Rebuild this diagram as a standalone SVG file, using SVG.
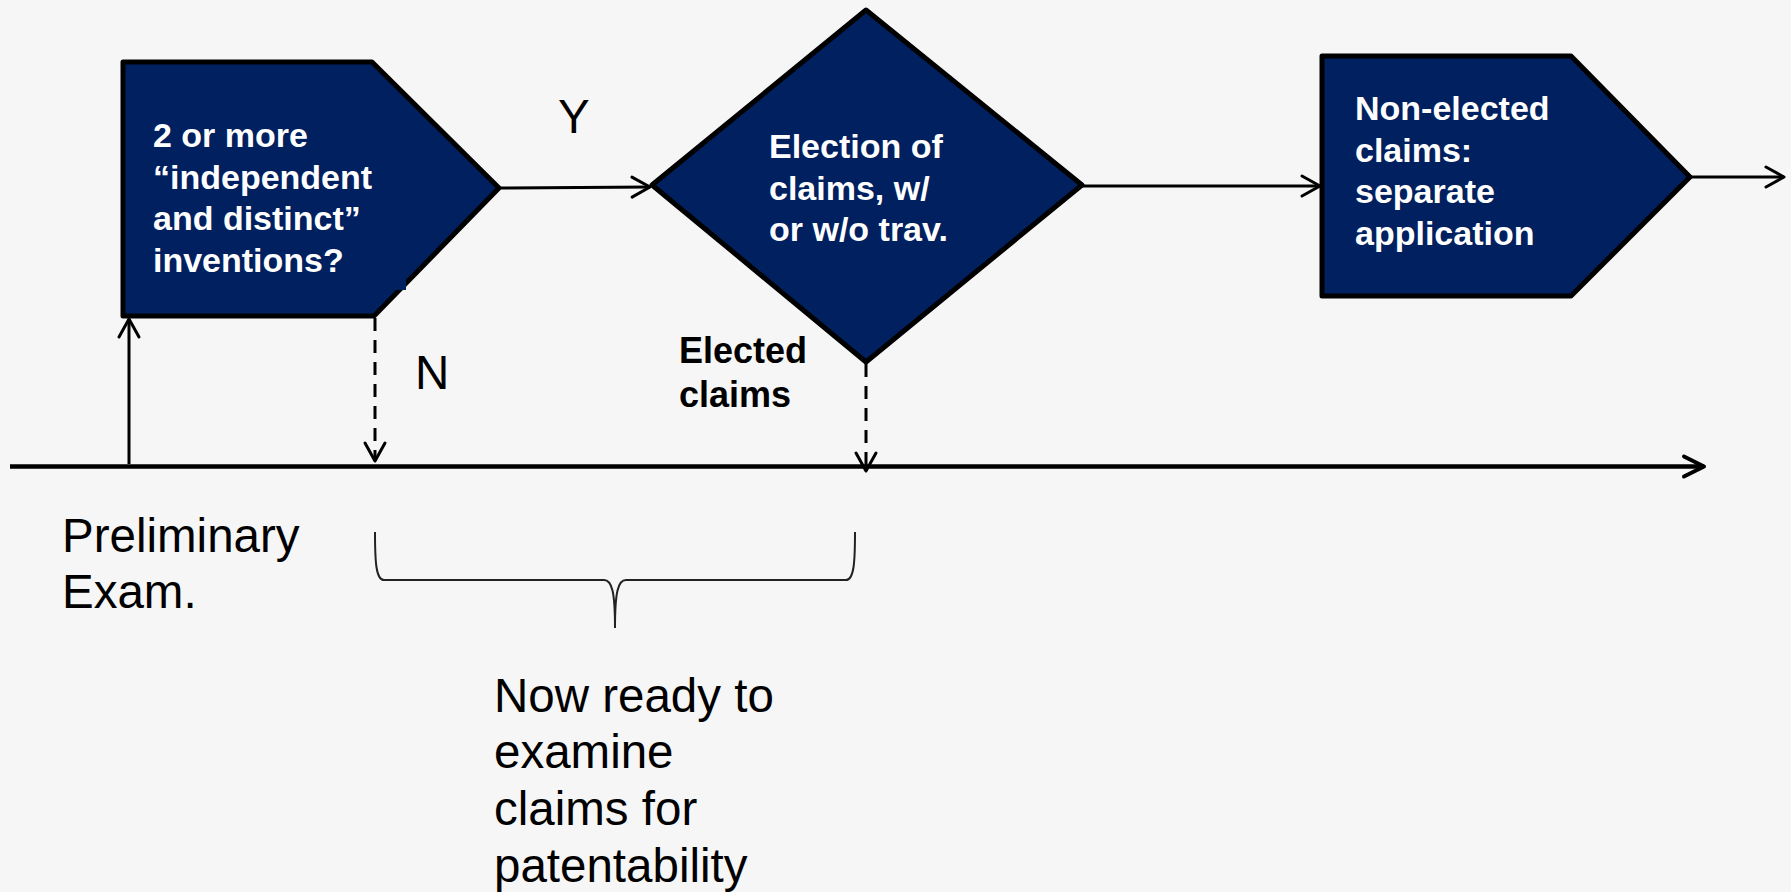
<svg xmlns="http://www.w3.org/2000/svg" width="1791" height="892" viewBox="0 0 1791 892">
<defs>
<style>
.node{fill:#002060;stroke:#000;stroke-width:5;stroke-linejoin:round}
.bt{font-family:"Liberation Sans",Arial,sans-serif;font-weight:bold;font-size:34px;fill:#fff}
.lbl{font-family:"Liberation Sans",Arial,sans-serif;font-size:47.5px;fill:#000}
.lblb{font-family:"Liberation Sans",Arial,sans-serif;font-weight:bold;font-size:36px;fill:#000}
.con{fill:none;stroke:#000;stroke-width:3}
.dash{stroke-dasharray:13 9}
.axis{fill:none;stroke:#000;stroke-width:4.5}
</style>
<marker id="arr" viewBox="-22 -13 26 26" refX="0" refY="0" markerWidth="26" markerHeight="26" markerUnits="userSpaceOnUse" orient="auto">
<path d="M-18,-10 L0,0 L-18,10" fill="none" stroke="#000" stroke-width="3" stroke-dasharray="none" stroke-linejoin="round" stroke-linecap="round"/>
</marker>
<marker id="arrT" viewBox="-24 -14 28 28" refX="0" refY="0" markerWidth="28" markerHeight="28" markerUnits="userSpaceOnUse" orient="auto">
<path d="M-20,-10 L0,0 L-20,10" fill="none" stroke="#000" stroke-width="4" stroke-linejoin="round" stroke-linecap="round"/>
</marker>
</defs>
<rect x="0" y="0" width="1791" height="892" fill="#f6f6f6"/>

<g id="connectors">
<line class="axis" x1="10" y1="466.5" x2="1704" y2="466.5" marker-end="url(#arrT)"/>
<line class="con" x1="499" y1="188" x2="650" y2="187" marker-end="url(#arr)"/>
<line class="con" x1="1082" y1="186" x2="1320" y2="186" marker-end="url(#arr)"/>
<line class="con" x1="1690" y1="177" x2="1784" y2="177" marker-end="url(#arr)"/>
<line class="con" x1="129" y1="464" x2="129" y2="319" marker-end="url(#arr)"/>
<line class="con dash" x1="375" y1="318" x2="375" y2="461" marker-end="url(#arr)"/>
<line class="con dash" x1="866" y1="364" x2="866" y2="471" marker-end="url(#arr)"/>
<path d="M375,532 C375,562 376,580 384,580 L604,580 C612,580 615,592 615,628 C615,592 618,580 626,580 L846,580 C854,580 855,562 855,532" fill="none" stroke="#222" stroke-width="2"/>
</g>

<g id="node-inventions">
<polygon class="node" points="123,62 372,62 499,188 374,316 123,316"/>
<rect x="393" y="277" width="13" height="13" fill="#002060"/>
<text class="bt" x="153" y="147">2 or more</text>
<text class="bt" x="153" y="188.5">“independent</text>
<text class="bt" x="153" y="230">and distinct”</text>
<text class="bt" x="153" y="271.5">inventions?</text>
</g>

<g id="node-election">
<polygon class="node" points="866,10 1082,185 866,362 652,185"/>
<text class="bt" x="769" y="158">Election of</text>
<text class="bt" x="769" y="199.5">claims, w/</text>
<text class="bt" x="769" y="241">or w/o trav.</text>
</g>

<g id="node-nonelected">
<polygon class="node" points="1322,56 1571,56 1690,177 1571,296 1322,296"/>
<text class="bt" x="1355" y="120">Non-elected</text>
<text class="bt" x="1355" y="161.5">claims:</text>
<text class="bt" x="1355" y="203">separate</text>
<text class="bt" x="1355" y="244.5">application</text>
</g>

<g id="labels">
<text class="lbl" x="558" y="133">Y</text>
<text class="lbl" x="415" y="389">N</text>
<text class="lblb" x="679" y="363">Elected</text>
<text class="lblb" x="679" y="407">claims</text>
<text class="lbl" x="62" y="552">Preliminary</text>
<text class="lbl" x="62" y="608">Exam.</text>
<text class="lbl" x="494" y="712">Now ready to</text>
<text class="lbl" x="494" y="768">examine</text>
<text class="lbl" x="494" y="825">claims for</text>
<text class="lbl" x="494" y="882">patentability</text>
</g>
</svg>
